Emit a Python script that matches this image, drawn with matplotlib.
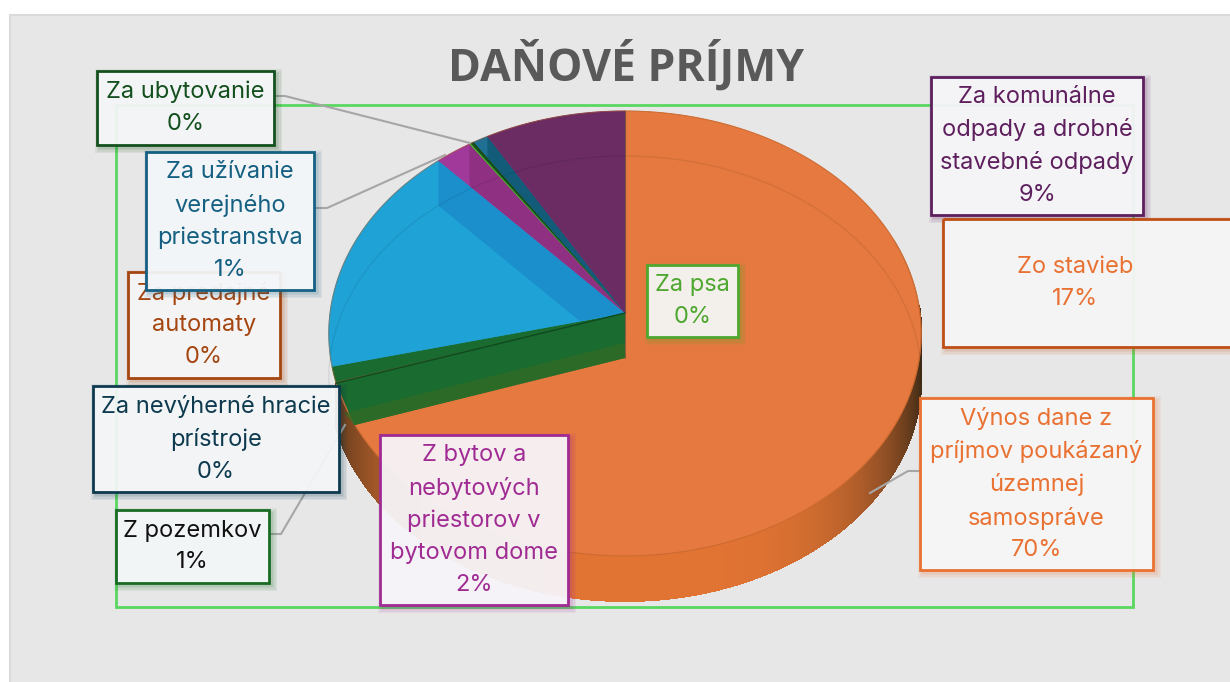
import numpy as np
import matplotlib
matplotlib.use('Agg')
import matplotlib.pyplot as plt
from matplotlib.patches import Polygon, Rectangle
from matplotlib.colors import to_rgb

plt.rcParams['font.family'] = ['Inter', 'DejaVu Sans']

title = 'DAŇOVÉ PRÍJMY'

# slices, clockwise from 12 o'clock
slice_names = ['Výnos', 'Za nevýherné', 'Z pozemkov', 'Zo stavieb', 'Z bytov',
               'Za psa', 'Za predajné', 'Za ubytovanie', 'Za užívanie', 'Za komunálne']
slice_values = [70.0, 0.1, 1.1, 17.0, 2.2, 0.1, 0.0, 0.2, 0.9, 8.4]
slice_colors = ['#E5793F', '#A5501F', '#196B2F', '#1FA2D6', '#A0399A',
                '#4EA72E', '#A5501F', '#14501E', '#1F7094', '#6A2C63']
wall_colors = ['#D9702F', '#A5501F', '#196B2F', '#1A8FCC', '#8F3082',
               '#4EA72E', '#A5501F', '#14501E', '#125C7A', '#672B60']

# labels: text, border colour, text colour, box (x0, y0, x1, y1)
labels = [
    ('Za predajné\nautomaty\n0%', '#A5450F', '#A5450F', (128, 272, 280, 378)),
    ('Za ubytovanie\n0%', '#14501E', '#14501E', (97, 71, 274, 145)),
    ('Za užívanie\nverejného\npriestranstva\n1%', '#156082', '#156082', (146, 152, 314, 290)),
    ('Za nevýherné hracie\nprístroje\n0%', '#0D3A4E', '#0D3A4E', (93, 386, 339, 492)),
    ('Z pozemkov\n1%', '#196B24', '#111111', (116, 510, 269, 583)),
    ('Z bytov a\nnebytových\npriestorov v\nbytovom dome\n2%', '#A02B93', '#A02B93', (380, 435, 568, 605)),
    ('Za psa\n0%', '#4EA72E', '#4EA72E', (647, 265, 738, 337)),
    ('Za komunálne\nodpady a drobné\nstavebné odpady\n9%', '#5E1F5E', '#5E1F5E', (931, 77, 1143, 215)),
    ('Zo stavieb\n17%', '#C04F15', '#E97132', (943, 219, 1240, 347)),
    ('Výnos dane z\npríjmov poukázaný\núzemnej\nsamospráve\n70%', '#E97132', '#E97132', (920, 398, 1153, 570)),
]

leaders = [
    ([274, 285, 470], [96, 96, 143]),
    ([314, 327, 445], [208, 208, 155]),
    ([269, 281, 345], [534, 534, 425]),
    ([870, 908, 920], [493, 471, 471]),
]

CX, CY = 625, 313
R, K, P = 295, 220.6, 0.092
DEPTH = 45


def project(theta):
    # unit circle angle (degrees) to tilted pie rim
    t = np.radians(theta)
    u, v = np.cos(t), np.sin(t)
    s = 1 + P * v
    return CX + R * u / s, CY - K * v / s


def face(theta1, theta2):
    ts = np.linspace(theta1, theta2, max(int(abs(theta2 - theta1)) * 2, 2))
    x, y = project(ts)
    return np.column_stack([np.r_[CX, x], np.r_[CY, y]])


def draw_box(ax, x0, y0, x1, y1, edge, z):
    for grow in [5, 3.5, 2, 1]:
        ax.add_patch(Rectangle((x0 + 3 - grow, y0 + 3 - grow), x1 - x0 + 2 * grow, y1 - y0 + 2 * grow,
                               fc=edge, ec='none', alpha=0.07, zorder=z))
    ax.add_patch(Rectangle((x0, y0), x1 - x0, y1 - y0, fc='#F8F9FB', ec='none', alpha=0.93, zorder=z))
    ax.add_patch(Rectangle((x0, y0), x1 - x0, y1 - y0, fc='none', ec=edge, lw=2, zorder=z))


fig = plt.figure(figsize=(12.3, 6.82), dpi=100, facecolor='white')

# angles come from matplotlib's pie, then get tilted by hand
tmp = fig.add_axes([0, 0, 0.1, 0.1])
wedges, _ = tmp.pie(slice_values, startangle=90, counterclock=False)
angles = [(w.theta1, w.theta2) for w in wedges]
tmp.remove()

ax = fig.add_axes([0, 0, 1, 1])
ax.set_xlim(0, 1230)
ax.set_ylim(682, 0)
ax.axis('off')

# background panel and plot frame
ax.add_patch(Rectangle((10, 15), 1240, 700, fc='#E7E7E7', ec='#DADADA', lw=1.5, zorder=0))
ax.add_patch(Rectangle((116, 105), 1017, 502, fc='none', ec='#5AD761', lw=2, zorder=1))

# outer wall with shading towards the sides
ts = np.linspace(198, 362, 400)
base = np.array(to_rgb('#E27433'))
dark = np.array(to_rgb('#3E2A16'))
for a, b in zip(ts[:-1], ts[1:]):
    xa, ya = project(a)
    xb, yb = project(b)
    k = abs(np.cos(np.radians((a + b) / 2))) ** 4
    col = base * (1 - k) + dark * k
    ax.add_patch(Polygon([(xa, ya), (xb, yb), (xb, yb + DEPTH), (xa, ya + DEPTH)], fc=col, ec=col, lw=0.8,
                         antialiased=False, zorder=2))

# top faces
faces = []
for (t1, t2), col in zip(angles, slice_colors):
    if t2 - t1 <= 0:
        faces.append(None)
        continue
    p = Polygon(face(t1, t2), closed=True, fc=col, ec=col, lw=0.6, zorder=3)
    ax.add_patch(p)
    faces.append(p)

# inner walls, clipped to own slice
for i in range(len(angles) - 1, 1, -1):
    t1, t2 = angles[i]
    if faces[i] is None or i == 2:
        continue
    x, y = project(t1)
    wall = Polygon([(CX, CY), (x, y), (x, y + DEPTH), (CX, CY + DEPTH)], fc=wall_colors[i], ec='none', zorder=4)
    ax.add_patch(wall)
    wall.set_clip_path(faces[i])

# see-through bottom rim, only upper part of it lies on the pie
ts = np.linspace(0, 190, 300)
xr, yr = project(ts)
ax.plot(xr, yr + DEPTH, color='#000000', alpha=0.07, lw=1, zorder=4)
ts = np.linspace(-20, 380, 500)
xr, yr = project(ts)
ax.plot(xr, yr, color='#B05A20', alpha=0.45, lw=0.8, zorder=4)

# green wall in front of the orange slice
t_green = angles[0][0]
x, y = project(t_green)
ax.add_patch(Polygon([(CX, CY), (x, y), (x + 18, y + DEPTH - 3), (CX, CY + DEPTH)], fc='#196B2F', ec='none', zorder=5))
ax.add_patch(Polygon([(CX, CY + 30), (x + 8, y + 30), (x + 18, y + DEPTH - 3), (CX, CY + DEPTH)],
                     fc='#356B24', ec='none', alpha=0.7, zorder=5))
ax.plot([CX, x], [CY, y], color='#0E4A20', lw=1, zorder=6)
ax.plot([CX, CX], [111, CY + DEPTH], color='#5A4A3A', alpha=0.6, lw=0.8, zorder=6)

# leader lines
for lx, ly in leaders:
    ax.plot(lx, ly, color='#A6A6A6', lw=1.5, zorder=7)

# title
ax.text(626, 66, title, ha='center', va='center', fontsize=32, fontweight='bold',
        family='Open Sans', color='#595959', zorder=8)

# data labels
for n, (txt, edge, tc, (x0, y0, x1, y1)) in enumerate(labels):
    z = 10 + n
    draw_box(ax, x0, y0, x1, y1, edge, z)
    ax.text((x0 + min(x1, 1207)) / 2, (y0 + y1) / 2, txt, ha='center', va='center', ma='center',
            fontsize=17, color=tc, linespacing=1.57, zorder=z + 0.5)

fig.savefig('out.png', dpi=100)
